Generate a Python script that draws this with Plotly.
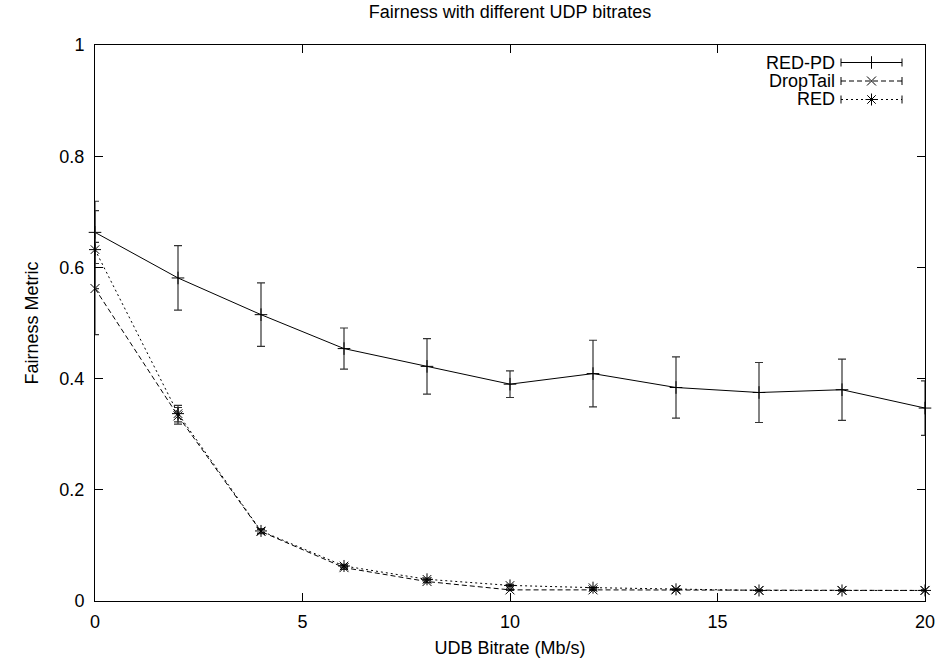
import plotly.graph_objects as go

# ---------------- data ----------------
bitrate = [0, 2, 4, 6, 8, 10, 12, 14, 16, 18, 20]
redpd = [0.663, 0.581, 0.515, 0.454, 0.422, 0.390, 0.409, 0.384, 0.375, 0.380, 0.347]
redpd_err = [0.056, 0.058, 0.057, 0.037, 0.050, 0.024, 0.060, 0.055, 0.054, 0.055, 0.049]
droptail = [0.562, 0.333, 0.125, 0.060, 0.035, 0.020, 0.020, 0.020, 0.019, 0.019, 0.019]
droptail_err = [0.083, 0.015, 0.004, 0.003, 0.002, 0.001, 0.001, 0.001, 0.001, 0.001, 0.001]
red = [0.632, 0.337, 0.126, 0.063, 0.039, 0.028, 0.024, 0.021, 0.019, 0.019, 0.019]
red_err = [0.070, 0.015, 0.004, 0.003, 0.002, 0.002, 0.001, 0.001, 0.001, 0.001, 0.001]
series_names = ["RED-PD", "DropTail", "RED"]
x_ticks = [0, 5, 10, 15, 20]
y_ticks = [0, 0.2, 0.4, 0.6, 0.8, 1]

FONT = "Liberation Sans, Arial, sans-serif"
FS = 18

styles = {
    "RED-PD": dict(dash="solid", symbol="cross-thin-open", size=9),
    "DropTail": dict(dash="5px,3px", symbol="x-thin-open", size=9),
    "RED": dict(dash="2px,3px", symbol="asterisk-open", size=10),
}
vals = {"RED-PD": (redpd, redpd_err), "DropTail": (droptail, droptail_err), "RED": (red, red_err)}

fig = go.Figure()
for name in series_names:
    y, e = vals[name]
    st = styles[name]
    fig.add_trace(go.Scatter(
        x=bitrate, y=y, name=name, mode="lines+markers",
        line=dict(color="black", width=1, dash=st["dash"]),
        marker=dict(symbol=st["symbol"], size=st["size"], color="black",
                    line=dict(color="black", width=1)),
        error_y=dict(type="data", array=e, visible=True, color="#333333",
                     thickness=1.2, width=4),
        cliponaxis=False, showlegend=False,
    ))

# ---------------- custom gnuplot-style legend ----------------
W, H = 940, 660
L, R, T, B = 95, 15, 45, 59
pw, ph = W - L - R, H - T - B

def px(xp):
    return (xp - L) / pw

def py(yp):
    return (H - B - yp) / ph

rows = [62.5, 81, 99.5]
text_right = 837
s0, s1 = 841, 902
cap = 4
shapes = []
annotations = []
for name, ry in zip(series_names, rows):
    st = styles[name]
    annotations.append(dict(x=px(text_right), y=py(ry), xref="paper", yref="paper",
                            text=name, showarrow=False, xanchor="right", yanchor="middle",
                            font=dict(family=FONT, size=FS, color="black")))
    shapes.append(dict(type="line", xref="paper", yref="paper",
                       x0=px(s0), x1=px(s1), y0=py(ry), y1=py(ry),
                       line=dict(color="black", width=1, dash=st["dash"])))
    for sx in (s0, s1):
        shapes.append(dict(type="line", xref="paper", yref="paper",
                           x0=px(sx), x1=px(sx), y0=py(ry - cap), y1=py(ry + cap),
                           line=dict(color="black", width=1)))
    fig.add_trace(go.Scatter(
        x=[px((s0 + s1) / 2)], y=[py(ry)], xaxis="x2", yaxis="y2", mode="markers",
        marker=dict(symbol=st["symbol"], size=st["size"], color="black",
                    line=dict(color="black", width=1)),
        showlegend=False, hoverinfo="skip", cliponaxis=False,
    ))

axis_common = dict(
    showgrid=False, zeroline=False, showline=True, linecolor="black", linewidth=1,
    mirror="ticks", ticks="inside", ticklen=8, tickcolor="black", tickwidth=1,
    tickfont=dict(family=FONT, size=FS, color="black"),
)

fig.update_layout(
    width=W, height=H,
    margin=dict(l=L, r=R, t=T, b=B, autoexpand=False),
    paper_bgcolor="white", plot_bgcolor="white",
    title=dict(text="Fairness with different UDP bitrates", x=0.5, xref="paper",
               y=1 - 12 / H, yref="container", yanchor="middle", xanchor="center",
               font=dict(family=FONT, size=FS, color="black")),
    xaxis=dict(range=[0, 20], tickvals=x_ticks, ticktext=[str(v) for v in x_ticks],
               ticklabelstandoff=4,
               title=dict(text="UDB Bitrate (Mb/s)", standoff=10,
                          font=dict(family=FONT, size=FS, color="black")),
               **axis_common),
    yaxis=dict(range=[0, 1], tickvals=y_ticks, ticktext=[f"{v:g}" for v in y_ticks],
               ticklabelstandoff=6,
               title=dict(text="Fairness Metric", standoff=16,
                          font=dict(family=FONT, size=FS, color="black")),
               **axis_common),
    xaxis2=dict(overlaying="x", range=[0, 1], visible=False, anchor="y2"),
    yaxis2=dict(overlaying="y", range=[0, 1], visible=False, anchor="x2"),
    shapes=shapes, annotations=annotations,
    showlegend=False,
)

fig.write_html("out.html")
